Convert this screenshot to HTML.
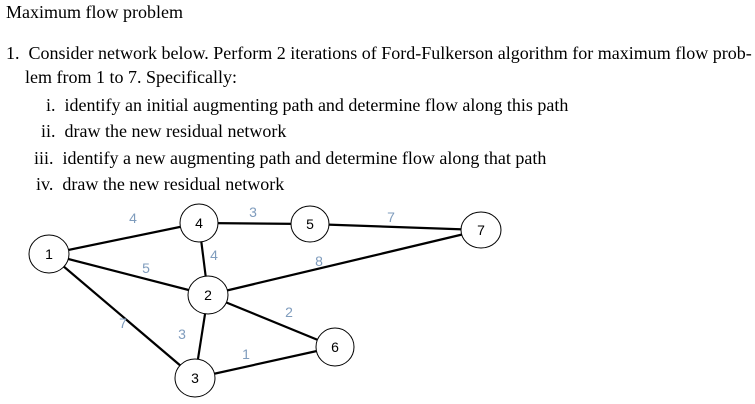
<!DOCTYPE html>
<html><head><meta charset="utf-8"><style>
body{margin:0;width:755px;height:404px;background:#fff;overflow:hidden;font-family:"Liberation Serif",serif;color:#000}
.t{position:absolute;font-size:18px;white-space:nowrap;line-height:1}
</style></head><body>
<div class="t" style="left:6px;top:3px">Maximum flow problem</div>
<div class="t" style="left:6px;top:44px">1.&nbsp; Consider network below. Perform 2 iterations of Ford-Fulkerson algorithm for maximum flow prob-</div>
<div class="t" style="left:25px;top:68px">lem from 1 to 7. Specifically:</div>
<div class="t" style="left:46px;top:96px">i.&nbsp; identify an initial augmenting path and determine flow along this path</div>
<div class="t" style="left:41px;top:122px">ii.&nbsp; draw the new residual network</div>
<div class="t" style="left:34px;top:149px">iii.&nbsp; identify a new augmenting path and determine flow along that path</div>
<div class="t" style="left:36px;top:175px">iv.&nbsp; draw the new residual network</div>
<svg width="755" height="404" style="position:absolute;left:0;top:0" font-family="Liberation Sans, sans-serif">
<g stroke="#000" stroke-width="2.2">
<line x1="49" y1="254" x2="199" y2="223"/>
<line x1="199" y1="223" x2="310" y2="224"/>
<line x1="310" y1="224" x2="481" y2="230"/>
<line x1="49" y1="254" x2="208" y2="295"/>
<line x1="49" y1="254" x2="195" y2="378"/>
<line x1="199" y1="223" x2="208" y2="295"/>
<line x1="208" y1="295" x2="481" y2="230"/>
<line x1="208" y1="295" x2="335" y2="347"/>
<line x1="208" y1="295" x2="195" y2="378"/>
<line x1="195" y1="378" x2="335" y2="347"/>
</g>
<g fill="#fff" stroke="#000" stroke-width="1">
<ellipse cx="49" cy="254" rx="20" ry="19"/>
<ellipse cx="199" cy="223" rx="19" ry="19"/>
<ellipse cx="310" cy="224" rx="19" ry="18"/>
<ellipse cx="481" cy="230" rx="20" ry="18"/>
<ellipse cx="208" cy="295" rx="20" ry="19"/>
<ellipse cx="335" cy="347" rx="19" ry="19"/>
<ellipse cx="195" cy="378" rx="20" ry="19"/>
</g>
<g font-size="14" text-anchor="middle" fill="#000">
<text x="49" y="259">1</text><text x="199" y="228">4</text><text x="310" y="229">5</text>
<text x="481" y="235">7</text><text x="208" y="300">2</text><text x="335" y="352">6</text><text x="195" y="383">3</text>
</g>
<g font-size="14" text-anchor="middle" fill="#7f9cbd">
<text x="133" y="223">4</text><text x="253" y="217">3</text><text x="391" y="222">7</text>
<text x="214" y="260">4</text><text x="319" y="266">8</text><text x="146" y="273">5</text>
<text x="289" y="317">2</text><text x="123" y="328">7</text><text x="182" y="339">3</text><text x="246" y="359">1</text>
</g>
</svg>
</body></html>
